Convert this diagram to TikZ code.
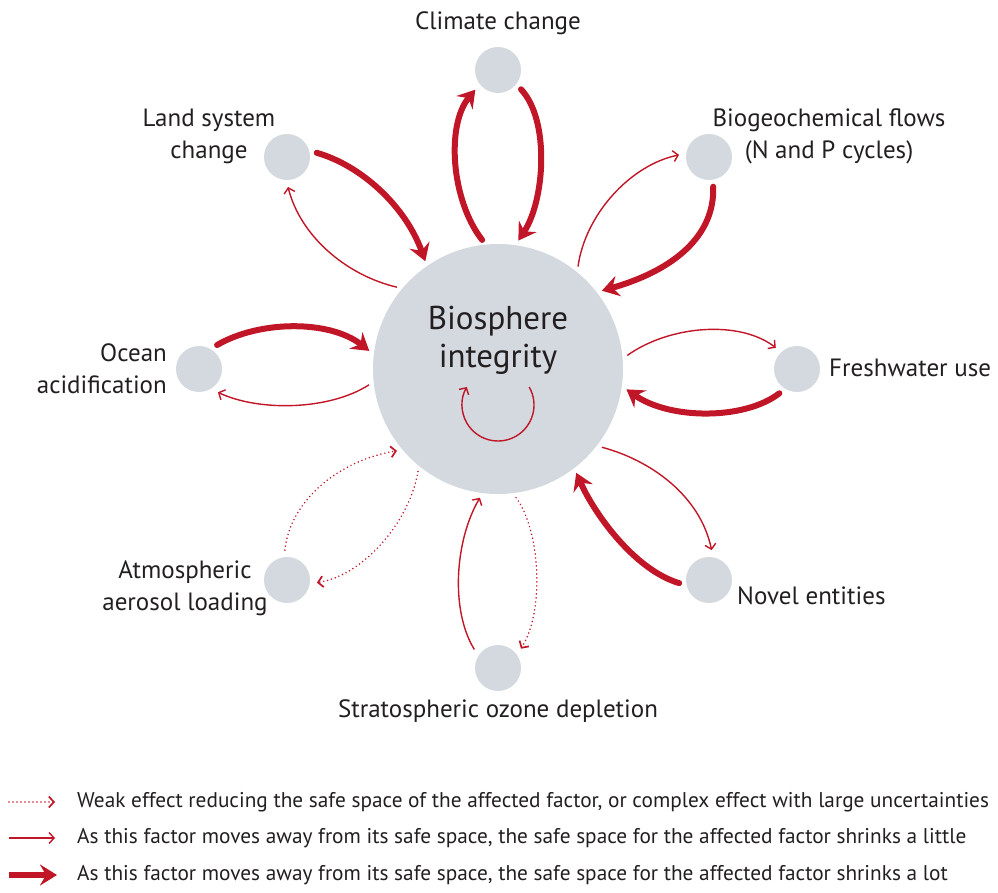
\documentclass[tikz,border=0pt]{standalone}
\usepackage{fontspec}
\setmainfont{PT Sans}
\usetikzlibrary{arrows.meta}
\definecolor{pbred}{RGB}{192,22,40}
\definecolor{pbgrey}{RGB}{211,217,222}
\definecolor{pbtext}{RGB}{35,31,32}

\begin{document}
\begin{tikzpicture}[x=1pt,y=1pt,
  hub/.style={circle,fill=pbgrey,minimum size=250pt,inner sep=0pt,outer sep=5pt},
  boundary/.style={circle,fill=pbgrey,minimum size=46pt,inner sep=0pt,outer sep=7pt},
  lbl/.style={text=pbtext,font=\fontsize{25}{32}\selectfont,inner sep=0pt},
  legendtext/.style={text=pbtext,font=\fontsize{21.3}{26}\selectfont,inner sep=0pt,anchor=west},
  strong/.style={pbred,line width=6pt,line cap=round,-{Stealth[length=17pt,width=21pt,inset=6pt]}},
  moderate/.style={pbred,line width=1.4pt,-{Straight Barb[length=5pt,width=11pt]}},
  weak/.style={pbred,line width=1.7pt,line cap=round,dash pattern=on 0pt off 4pt,-{Straight Barb[length=5pt,width=11pt]}},
]
\useasboundingbox (0,0) rectangle (998,892);

% central circle and the eight boundaries around it
\node[hub] (bio) at (498,523) {};
\node[boundary] (clim) at (498,822) {};
\node[boundary] (bgc)  at (709,735) {};
\node[boundary] (fw)   at (797,523) {};
\node[boundary] (nov)  at (709,312) {};
\node[boundary] (ozo)  at (498,224) {};
\node[boundary] (aer)  at (287,312) {};
\node[boundary] (oce)  at (199,523) {};
\node[boundary] (land) at (287,735) {};

% labels
\node[lbl,font=\fontsize{33}{38}\selectfont,align=center] (biolbl) at (498,552) {Biosphere\\integrity};
\node[lbl] (climlbl) at (498,869) {Climate change};
\node[lbl,align=center] (bgclbl) at (829,756) {Biogeochemical flows\\(N and P cycles)};
\node[lbl,anchor=west] (fwlbl) at (829,524) {Freshwater use};
\node[lbl,anchor=west] (novlbl) at (737,296) {Novel entities};
\node[lbl] (ozolbl) at (498,181) {Stratospheric ozone depletion};
\node[lbl,align=center] (aerlbl) at (185,304) {Atmospheric\\aerosol loading};
\node[lbl,anchor=east,align=right] (ocelbl) at (167,523) {Ocean\\acidification};
\node[lbl,align=center] (landlbl) at (209,756) {Land system\\change};

% interactions
\draw[strong]   (bio.97)   .. controls (451,692) and (446,767) .. (clim.221);
\draw[strong]   (clim.-40) .. controls (550,772) and (545,692) .. (bio.81);
\draw[strong]   (land.8)   .. controls (360,727) and (405,687) .. (bio.124);
\draw[moderate] (bio.141)  .. controls (345,617) and (300,657) .. (land.-88);
\draw[moderate] (bio.52)   .. controls (585,677) and (630,727) .. (bgc.176);
\draw[strong]   (bgc.-82)  .. controls (715,657) and (675,622) .. (bio.37);
\draw[moderate] (bio.6)    .. controls (670,567) and (740,572) .. (fw.135);
\draw[strong]   (fw.234)   .. controls (745,472) and (670,472) .. (bio.-9);
\draw[moderate] (bio.-37)  .. controls (650,432) and (700,397) .. (nov.85);
\draw[strong]   (nov.186)  .. controls (635,322) and (595,377) .. (bio.-53);
\draw[weak]     (bio.-82)  .. controls (540,362) and (545,282) .. (ozo.40);
\draw[moderate] (ozo.142)  .. controls (450,282) and (455,352) .. (bio.-98);
\draw[weak]     (bio.232)  .. controls (410,372) and (365,317) .. (aer.-5);
\draw[weak]     (aer.94)   .. controls (290,392) and (340,432) .. (bio.219);
\draw[moderate] (bio.187)  .. controls (330,482) and (260,480) .. (oce.-51);
\draw[strong]   (oce.53)   .. controls (260,572) and (330,572) .. (bio.172);

% self-reinforcement inside the biosphere
\coordinate (loopc) at (498,487);
\draw[moderate] (loopc) ++(30:36) arc[start angle=30,end angle=-210,radius=36];

% legend
\coordinate (k1a) at (9,90);  \coordinate (k1b) at (55,90);
\coordinate (k2a) at (9,54);  \coordinate (k2b) at (55,54);
\coordinate (k3a) at (9,17);  \coordinate (k3b) at (57,17);
\draw[weak] (k1a) -- (k1b);
\draw[moderate] (k2a) -- (k2b);
\draw[strong,line cap=butt] (k3a) -- (k3b);
\node[legendtext] (t1) at (77,90) {Weak effect reducing the safe space of the affected factor, or complex effect with large uncertainties};
\node[legendtext] (t2) at (77,54) {As this factor moves away from its safe space, the safe space for the affected factor shrinks a little};
\node[legendtext] (t3) at (77,17) {As this factor moves away from its safe space, the safe space for the affected factor shrinks a lot};
\end{tikzpicture}
\end{document}
